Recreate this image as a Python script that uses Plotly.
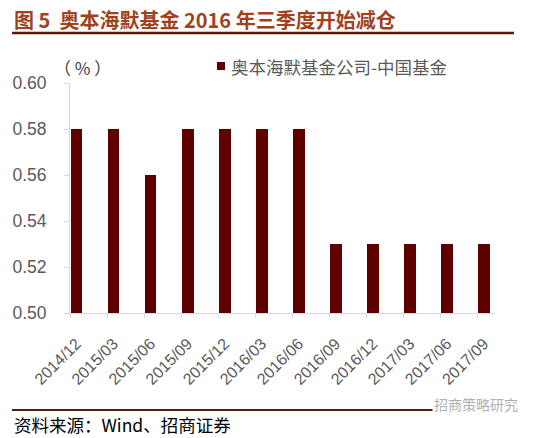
import plotly.graph_objects as go

categories = ["2014/12", "2015/03", "2015/06", "2015/09", "2015/12", "2016/03",
              "2016/06", "2016/09", "2016/12", "2017/03", "2017/06", "2017/09"]
values = [0.58, 0.58, 0.56, 0.58, 0.58, 0.58, 0.58, 0.53, 0.53, 0.53, 0.53, 0.53]
series_name = "奥本海默基金公司-中国基金"
title_text = "图 5  奥本海默基金 2016 年三季度开始减仓"
source_text = "资料来源：Wind、招商证券"
unit_text = "（ % ）"
watermark_text = "招商策略研究"

# the page body has an 8px margin, so lay the figure out in page pixels minus 8
OFF = 8
W, H = 534 - OFF, 438 - OFF
L, R, T, B = 70 - OFF, 495 - OFF, 83 - OFF, 313 - OFF

def px(x):
    return (x - OFF - L) / (R - L)

def py(y):
    return (B - (y - OFF)) / (B - T)

bar_color = "#5E0000"
idx = list(range(len(categories)))

fig = go.Figure()
fig.add_trace(go.Bar(
    x=idx, y=values, width=0.32, marker=dict(color=bar_color, line=dict(width=0)),
    name=series_name, showlegend=False,
))

fig.update_layout(
    width=W, height=H,
    margin=dict(l=L, r=W - R, t=T, b=H - B, autoexpand=False),
    paper_bgcolor="white", plot_bgcolor="white",
    font=dict(family="Arial", color="#595959", size=16),
    xaxis=dict(
        range=[-0.175, 11.3], tickmode="array", tickvals=idx, ticktext=categories,
        tickangle=-45, ticks="outside", ticklen=14, tickcolor="rgba(0,0,0,0)",
        showline=True, linecolor="#D9D9D9", linewidth=1, showgrid=False, zeroline=False,
        tickfont=dict(size=16, color="#595959", family="Arial"),
        minor=dict(tick0=-0.175, dtick=1, ticks="outside", ticklen=4,
                   tickcolor="#D9D9D9", showgrid=False),
    ),
    yaxis=dict(
        range=[0.50, 0.60], dtick=0.02, tick0=0.50, tickformat=".2f",
        ticks="outside", ticklen=5, tickcolor="#D9D9D9", ticklabelstandoff=14,
        showline=True, linecolor="#D9D9D9", linewidth=1, showgrid=False, zeroline=False,
        tickfont=dict(size=17.5, color="#595959", family="Arial"),
    ),
    bargap=0,
)

shapes = [
    dict(type="line", xref="paper", yref="paper", x0=px(12), x1=px(514), y0=py(33), y1=py(33),
         line=dict(color="#5A1A0A", width=2.5)),
    dict(type="line", xref="paper", yref="paper", x0=px(12), x1=px(514), y0=py(410), y1=py(410),
         line=dict(color="#5A1A0A", width=2)),
    dict(type="rect", xref="paper", yref="paper", x0=px(217), x1=px(225), y0=py(70), y1=py(62),
         fillcolor=bar_color, line=dict(width=0)),
]

annotations = [
    dict(text="<b>" + title_text + "</b>", xref="paper", yref="paper", x=px(12), y=py(19),
         xanchor="left", yanchor="middle", showarrow=False,
         font=dict(family="Noto Sans CJK SC", size=20, color="#A0421C")),
    dict(text=series_name, xref="paper", yref="paper", x=px(229), y=py(66),
         xanchor="left", yanchor="middle", showarrow=False,
         font=dict(family="Noto Sans CJK SC", size=17.5, color="#595959")),
    dict(text=unit_text, xref="paper", yref="paper", x=px(52), y=py(68),
         xanchor="left", yanchor="middle", showarrow=False,
         font=dict(family="Noto Sans CJK SC", size=17, color="#404040")),
    dict(text=source_text, xref="paper", yref="paper", x=px(12), y=py(424),
         xanchor="left", yanchor="middle", showarrow=False,
         font=dict(family="Noto Sans CJK SC", size=17.5, color="#000000")),
    dict(text=watermark_text, xref="paper", yref="paper", x=px(520), y=py(404),
         xanchor="right", yanchor="middle", showarrow=False, bgcolor="white",
         font=dict(family="Noto Sans CJK SC", size=14, color="#B0B0B0")),
]

fig.update_layout(shapes=shapes, annotations=annotations)
fig.write_html("out.html")
